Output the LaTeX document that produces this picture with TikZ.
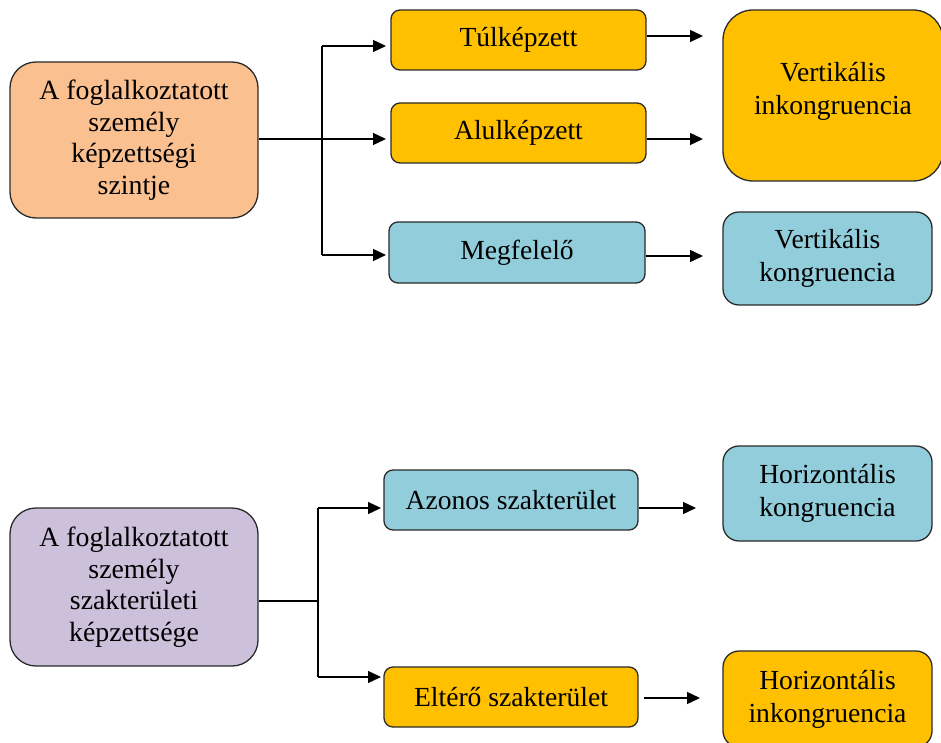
\documentclass[tikz,border=0pt]{standalone}
\usepackage{fontspec}
\setmainfont{Liberation Serif}
\usetikzlibrary{arrows.meta}
\definecolor{peach}{HTML}{FAC090}
\definecolor{gold}{HTML}{FFC000}
\definecolor{sky}{HTML}{92CDDC}
\definecolor{lilac}{HTML}{CCC0DA}
\definecolor{edge}{HTML}{2B2B2B}
\begin{document}
\begin{tikzpicture}[x=1pt,y=-1pt,
  box/.style={draw=edge, line width=1.3pt, rounded corners=#1, inner sep=0pt,
    align=center, font=\fontsize{27.6}{33}\selectfont},
  box/.default=9pt,
  leftbox/.style={box=26pt, minimum width=248pt, font=\fontsize{27.8}{31.5}\selectfont},
  arr/.style={line width=1.3pt, draw=black, -{Triangle[length=13pt,width=12pt]}},
  ln/.style={line width=1.3pt, draw=black}]
\useasboundingbox (0,0) rectangle (941,743);
\fill[white] (0,0) rectangle (941,743);

% ---------- top part ----------
\node[leftbox, fill=peach, minimum height=156pt] (a1) at (134,140)
  {A foglalkoztatott\\személy\\képzettségi\\szintje};
\node[box, fill=gold, minimum width=255pt, minimum height=60pt] (tul) at (518.5,40) {Túlképzett};
\node[box, fill=gold, minimum width=255pt, minimum height=60pt] (alu) at (518.5,133) {Alulképzett};
\node[box, fill=sky, minimum width=256pt, minimum height=61pt] (meg) at (517,252.5) {Megfelelő};
\node[box=30pt, fill=gold, minimum width=220pt, minimum height=171pt, text depth=14pt] (vi) at (833,95.5)
  {Vertikális\\inkongruencia};
\node[box=16pt, fill=sky, minimum width=209pt, minimum height=93pt] (vk) at (827.5,258.5)
  {Vertikális\\kongruencia};

\coordinate (j1) at (322,139);
\coordinate (t1) at (322,46);
\coordinate (t3) at (322,255);
\coordinate (e1) at (386,46);
\coordinate (e2) at (386,139);
\coordinate (e3) at (386,255);
\draw[ln] (a1.east |- j1) -- (j1);
\draw[ln] (t1) -- (t3);
\draw[arr] (t1) -- (e1);
\draw[arr] (j1) -- (e2);
\draw[arr] (t3) -- (e3);

\coordinate (v1) at (703,36);
\coordinate (v2) at (703,139);
\coordinate (v3) at (703,256);
\draw[arr] (tul.east |- v1) -- (v1);
\draw[arr] (alu.east |- v2) -- (v2);
\draw[arr] (meg.east |- v3) -- (v3);

% ---------- bottom part ----------
\node[leftbox, fill=lilac, minimum height=158pt] (b1) at (134,587)
  {A foglalkoztatott\\személy\\szakterületi\\képzettsége};
\node[box, fill=sky, minimum width=254pt, minimum height=60pt] (az) at (511,500) {Azonos szakterület};
\node[box, fill=gold, minimum width=254pt, minimum height=60pt] (el) at (511,697) {Eltérő szakterület};
\node[box=16pt, fill=sky, minimum width=209pt, minimum height=95pt] (hk) at (827.5,493.5)
  {Horizontális\\kongruencia};
\node[box=16pt, fill=gold, minimum width=209pt, minimum height=96pt] (hi) at (827.5,699)
  {Horizontális\\inkongruencia};

\coordinate (j2) at (318,601);
\coordinate (s1) at (318,508);
\coordinate (s2) at (318,677);
\coordinate (f1) at (381,508);
\coordinate (f2) at (381,677);
\draw[ln] (b1.east |- j2) -- (j2);
\draw[ln] (s1) -- (s2);
\draw[arr] (s1) -- (f1);
\draw[arr] (s2) -- (f2);

\coordinate (h1) at (696,508);
\coordinate (h2) at (700,698);
\draw[arr] (az.east |- h1) -- (h1);
\draw[arr] ([xshift=5pt]el.east |- h2) -- (h2);
\end{tikzpicture}
\end{document}
